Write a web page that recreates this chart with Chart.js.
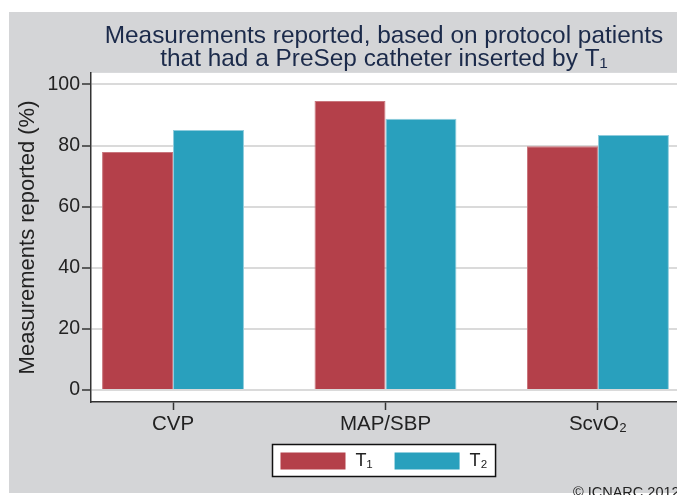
<!DOCTYPE html>
<html>
<head>
<meta charset="utf-8">
<title>Measurements reported</title>
<script src="https://cdn.jsdelivr.net/npm/chart.js@4/dist/chart.umd.min.js"></script>
<style>
  html, body { margin: 0; padding: 0; background: #fff; }
  canvas { display: block; }
</style>
</head>
<body>
<canvas id="grafico" width="677" height="495"></canvas>
<script>
// valores
const categories = ['CVP', 'MAP/SBP', 'ScvO₂'];
const seriesNames = ['T₁', 'T₂'];
const t1Values = [77.9, 94.6, 79.8];
const t2Values = [85.1, 88.8, 83.5];
const yTicks = [0, 20, 40, 60, 80, 100];
const titleLines = ['Measurements reported, based on protocol patients', 'that had a PreSep catheter inserted by T₁'];

const FONT = '"Liberation Sans", Arial, Helvetica, sans-serif';
const RED = '#B4404A';
const BLUE = '#29A0BD';
const BG_GREY = '#D4D5D7';
const INK = '#222';

// fundo cinza + área do gráfico branca (estilo Stata)
const fundo = {
    id: 'fundo',
    beforeDraw(chart) {
        const { ctx, chartArea: a } = chart;
        ctx.save();
        ctx.fillStyle = '#fff';
        ctx.fillRect(0, 0, chart.width, chart.height);
        ctx.fillStyle = BG_GREY;
        ctx.fillRect(9, 12, chart.width - 9, chart.height - 14);
        ctx.fillStyle = '#fff';
        ctx.fillRect(a.left, a.top, a.right - a.left, a.bottom - a.top);
        ctx.restore();
    },
    afterDraw(chart) {
        const ctx = chart.ctx;
        ctx.save();
        ctx.font = '14.5px ' + FONT;
        ctx.fillStyle = INK;
        ctx.textBaseline = 'alphabetic';
        ctx.fillText('© ICNARC 2012', 573, 497);
        ctx.restore();
    }
};

// legenda com caixa (a legenda padrão do Chart.js não desenha borda)
const legendaCaixa = {
    id: 'legendaCaixa',
    afterDraw(chart) {
        const { ctx, chartArea: a } = chart;
        const sets = chart.data.datasets;
        const pad = 8, sw = 65, sh = 17, gap = 10, itemGap = 22, h = 32;
        ctx.save();
        ctx.font = '18px ' + FONT;
        const widths = sets.map(d => ctx.measureText(d.label).width);
        const w = pad * 2 + sets.length * (sw + gap) + widths.reduce((s, x) => s + x, 0) + itemGap * (sets.length - 1);
        const x0 = Math.round((a.left + a.right) / 2 - w / 2) + 0.5;
        const y0 = Math.round(a.bottom + 42) + 0.5;

        ctx.fillStyle = '#fff';
        ctx.fillRect(x0, y0, w, h);
        ctx.strokeStyle = '#111';
        ctx.lineWidth = 1.5;
        ctx.strokeRect(x0, y0, w, h);

        let x = x0 + pad;
        sets.forEach((d, i) => {
            ctx.fillStyle = d.backgroundColor;
            ctx.fillRect(x, y0 + 8, sw, sh);
            x += sw + gap;
            ctx.fillStyle = INK;
            ctx.textBaseline = 'middle';
            ctx.fillText(d.label, x, y0 + h / 2 + 1);
            x += widths[i] + itemGap;
        });
        ctx.restore();
    }
};

const ctx = document.getElementById('grafico');

new Chart(ctx, {
    type: 'bar',
    data: {
        datasets: [
            {
                label: seriesNames[0],
                data: t1Values.map((v, i) => ({ x: i, y: v })),
                backgroundColor: RED,
                borderColor: '#C9767D',
                borderWidth: 1
            },
            {
                label: seriesNames[1],
                data: t2Values.map((v, i) => ({ x: i, y: v })),
                backgroundColor: BLUE,
                borderColor: '#8FCCDD',
                borderWidth: 1
            }
        ]
    },
    options: {
        responsive: false,
        devicePixelRatio: 1,
        animation: false,
        categoryPercentage: 0.668,
        barPercentage: 1.0,
        layout: { padding: { left: 0, right: 0, top: 0, bottom: 63 } },
        plugins: {
            legend: { display: false },
            tooltip: { enabled: false },
            title: {
                display: true,
                fullSize: false,
                text: titleLines,
                color: '#1B2A4A',
                font: { family: FONT, size: 24.4, weight: 'normal', lineHeight: 0.94 },
                padding: { top: 25, bottom: 2 }
            }
        },
        scales: {
            x: {
                type: 'linear',
                min: -0.386,
                max: 2.372,
                offset: false,
                afterBuildTicks: (axis) => { axis.ticks = categories.map((c, i) => ({ value: i })); },
                afterFit: (scale) => { scale.height = 30; },
                ticks: {
                    color: INK,
                    padding: 2,
                    font: { family: FONT, size: 20.5 },
                    callback: (value) => categories[value]
                },
                grid: {
                    offset: false,
                    drawOnChartArea: false,
                    drawTicks: true,
                    tickLength: 8,
                    tickColor: '#333',
                    tickWidth: 1.5
                },
                border: { color: '#333', width: 1.5 }
            },
            y: {
                min: -3.9,
                max: 103.8,
                afterBuildTicks: (axis) => { axis.ticks = yTicks.map(v => ({ value: v })); },
                afterFit: (scale) => { scale.width = 91; },
                ticks: {
                    color: INK,
                    padding: 2,
                    font: { family: FONT, size: 19.5 }
                },
                grid: {
                    color: '#DADADA',
                    lineWidth: 2,
                    drawTicks: true,
                    tickLength: 9,
                    tickColor: '#333',
                    tickWidth: 1.5
                },
                border: { color: '#333', width: 1.5 },
                title: {
                    display: true,
                    text: 'Measurements reported (%)',
                    color: INK,
                    font: { family: FONT, size: 22 },
                    padding: { top: 15, bottom: 0 }
                }
            }
        }
    },
    plugins: [fundo, legendaCaixa]
});
</script>
</body>
</html>
